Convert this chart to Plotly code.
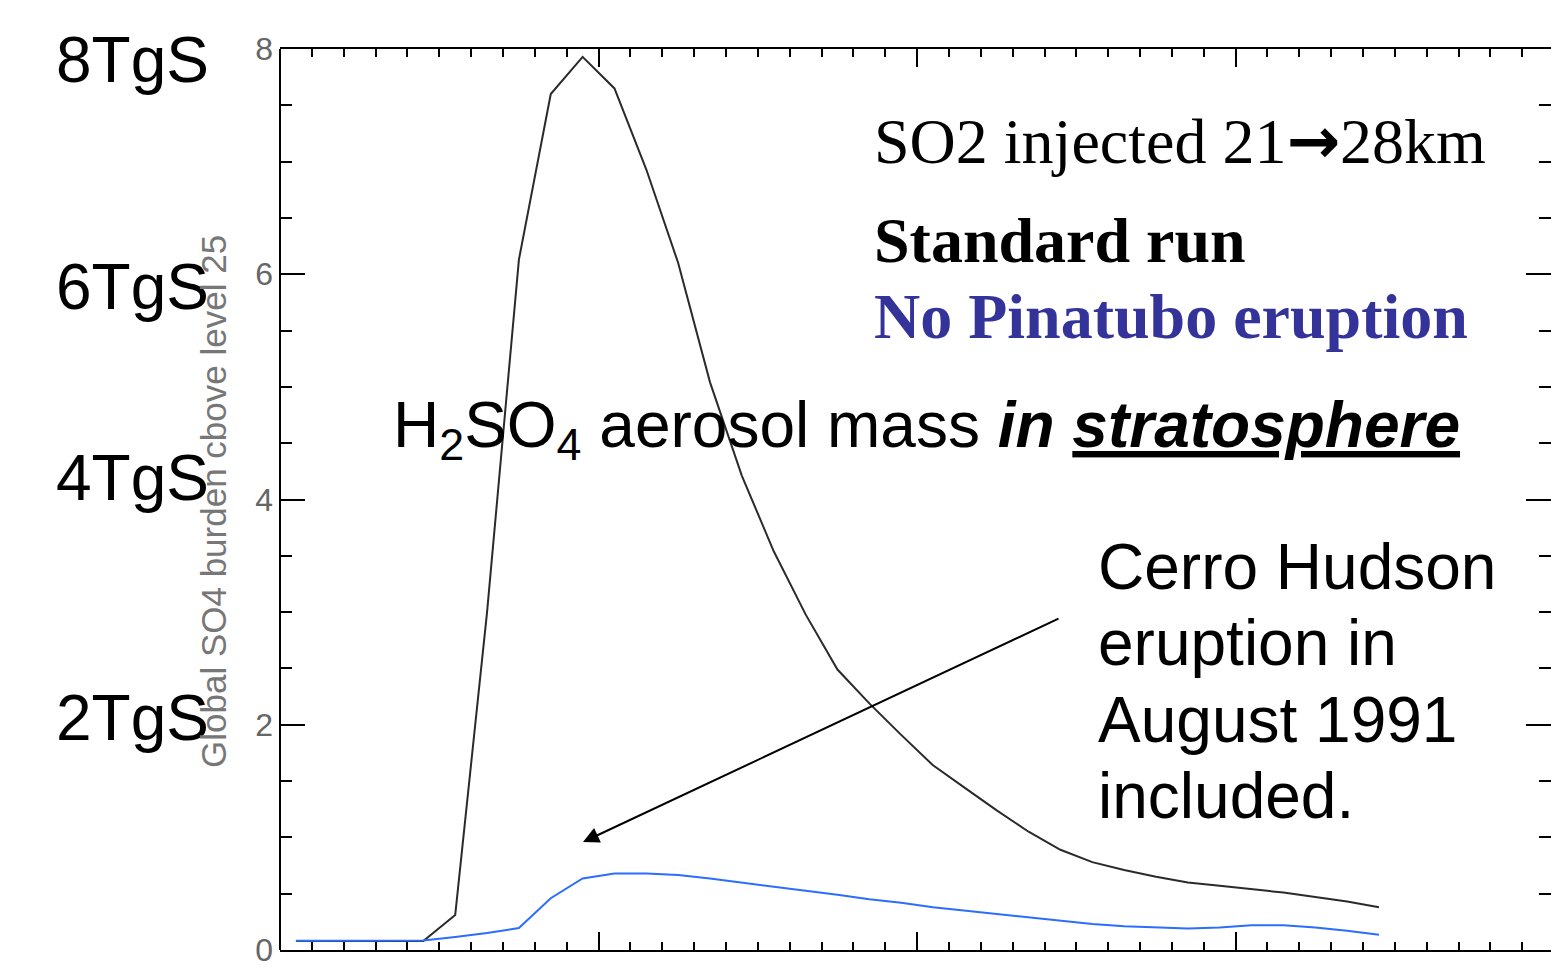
import plotly.graph_objects as go

# ---------------- data ----------------
months = [0.5, 1.5, 2.5, 3.5, 4.5, 5.5, 6.5, 7.5, 8.5, 9.5,
          10.5, 11.5, 12.5, 13.5, 14.5, 15.5, 16.5, 17.5, 18.5, 19.5,
          20.5, 21.5, 22.5, 23.5, 24.5, 25.5, 26.5, 27.5, 28.5, 29.5,
          30.5, 31.5, 32.5, 33.5, 34.5]

standard_run = [0.08, 0.08, 0.08, 0.08, 0.08, 0.31, 3.0, 6.13, 7.6, 7.93,
                7.65, 6.93, 6.1, 5.04, 4.21, 3.54, 2.98, 2.49, 2.19, 1.91,
                1.64, 1.44, 1.24, 1.05, 0.89, 0.78, 0.71, 0.65, 0.60, 0.57,
                0.54, 0.51, 0.47, 0.43, 0.38]

no_pinatubo = [0.083, 0.083, 0.083, 0.083, 0.085, 0.115, 0.15, 0.195, 0.46, 0.635,
               0.68, 0.68, 0.665, 0.635, 0.60, 0.56, 0.525, 0.49, 0.45, 0.42,
               0.38, 0.35, 0.315, 0.285, 0.26, 0.23, 0.21, 0.20, 0.19, 0.20,
               0.22, 0.22, 0.20, 0.17, 0.135]

y_tick_values = [0, 2, 4, 6, 8]
y_tick_text = ["0", "2", "4", "6", "8"]
tgs_labels = ["8TgS", "6TgS", "4TgS", "2TgS"]
y_title = "Global SO4 burden cbove level 25"

# ---------------- layout geometry ----------------
W, H = 1551, 970
ML, MR, MT, MB = 280, 0, 49, 20
PW, PH = W - ML - MR, H - MT - MB
XMAX = 39.9
YMAX = 8.0

SANS = "Liberation Sans, Arial, sans-serif"
SERIF = "Liberation Serif, Times New Roman, serif"
BIG = 64


def paper_x(px):
    return (px - ML) / PW


def paper_y(py):
    return (H - MB - py) / PH


def data_x(px):
    return (px - ML) / PW * XMAX


def data_y(py):
    return (H - MB - py) / PH * YMAX


fig = go.Figure()
fig.add_trace(go.Scatter(x=months, y=standard_run, mode="lines",
                         line=dict(color="#2a2a2a", width=2), name="Standard run"))
fig.add_trace(go.Scatter(x=months, y=no_pinatubo, mode="lines",
                         line=dict(color="#2b6dff", width=2), name="No Pinatubo eruption"))

ann = []
# big TgS labels on the left
for lab, cy in zip(tgs_labels, [60, 287, 478, 718]):
    ann.append(dict(text=lab, xref="paper", yref="paper", x=paper_x(54), y=paper_y(cy),
                    xanchor="left", yanchor="middle", showarrow=False,
                    font=dict(family=SANS, size=BIG, color="black")))

# y axis title (rotated)
ann.append(dict(text=y_title, xref="paper", yref="paper", x=paper_x(213), y=paper_y(502),
                xanchor="center", yanchor="middle", textangle=-90, showarrow=False,
                font=dict(family=SANS, size=35, color="#777777")))

# legend-like texts
ann.append(dict(text="SO2 injected 21<span style=\"font-family:DejaVu Sans;font-weight:bold\">\u2192</span>28km",
                xref="paper", yref="paper",
                x=paper_x(872), y=paper_y(141), xanchor="left", yanchor="middle",
                showarrow=False, font=dict(family=SERIF, size=BIG, color="black")))
ann.append(dict(text="<b>Standard run</b>", xref="paper", yref="paper",
                x=paper_x(872), y=paper_y(240), xanchor="left", yanchor="middle",
                showarrow=False, font=dict(family=SERIF, size=BIG, color="black")))
ann.append(dict(text="<b>No Pinatubo eruption</b>", xref="paper", yref="paper",
                x=paper_x(872), y=paper_y(316), xanchor="left", yanchor="middle",
                showarrow=False, font=dict(family=SERIF, size=BIG, color="#333399")))

# H2SO4 label
ann.append(dict(text="H<sub>2</sub>SO<sub>4</sub> aerosol mass <b><i>in</i></b> <b><i><u>stratosphere</u></i></b>",
                xref="paper", yref="paper", x=paper_x(391), y=paper_y(429),
                xanchor="left", yanchor="middle", showarrow=False,
                font=dict(family=SANS, size=BIG, color="black")))

# Cerro Hudson text
for line, cy in zip(["Cerro Hudson", "eruption in", "August 1991", "included."],
                    [567, 643, 720, 796]):
    ann.append(dict(text=line, xref="paper", yref="paper", x=paper_x(1096), y=paper_y(cy),
                    xanchor="left", yanchor="middle", showarrow=False,
                    font=dict(family=SANS, size=BIG, color="black")))

# arrow
ann.append(dict(text="", xref="x", yref="y", axref="x", ayref="y",
                x=data_x(583), y=data_y(842), ax=data_x(1060), ay=data_y(618),
                showarrow=True, arrowhead=2, arrowsize=1.6, arrowwidth=2, arrowcolor="black"))

fig.update_layout(
    width=W, height=H,
    margin=dict(l=ML, r=MR, t=MT, b=MB, pad=0),
    paper_bgcolor="white", plot_bgcolor="white",
    showlegend=False,
    annotations=ann,
    shapes=[dict(type="line", xref="paper", yref="paper", x0=0, x1=0, y0=0, y1=1,
                 line=dict(color="black", width=2), layer="above")],
    xaxis=dict(range=[0, XMAX], showgrid=False, zeroline=False,
               showline=True, linewidth=2, linecolor="black", mirror="ticks",
               ticks="inside", tick0=0, dtick=10, ticklen=18, tickwidth=2, tickcolor="black",
               showticklabels=False,
               minor=dict(dtick=1, ticks="inside", ticklen=8, tickwidth=2, tickcolor="black",
                          showgrid=False)),
    yaxis=dict(range=[0, YMAX], showgrid=False, zeroline=False,
               showline=False, mirror="ticks",
               ticks="inside", tickvals=y_tick_values, ticktext=y_tick_text,
               ticklen=25, tickwidth=2, tickcolor="black",
               tickfont=dict(family=SANS, size=32, color="#666666"),
               ticklabelstandoff=6,
               minor=dict(dtick=0.5, ticks="inside", ticklen=12, tickwidth=2, tickcolor="black",
                          showgrid=False)),
)

fig.write_html("out.html")
